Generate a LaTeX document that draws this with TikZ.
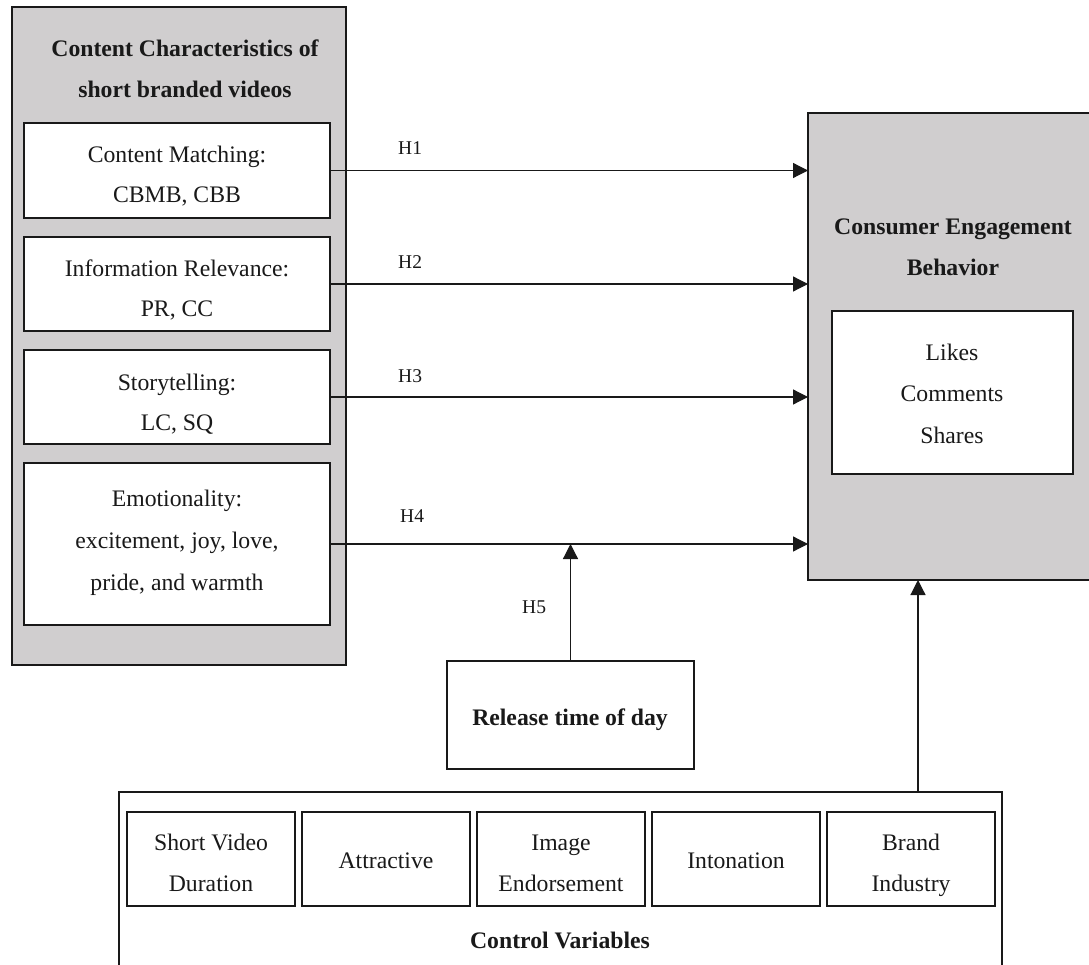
\documentclass[tikz,border=0pt]{standalone}
\usepackage{fontspec}
\setmainfont{Liberation Serif}
\usetikzlibrary{arrows.meta}
\definecolor{boxgray}{RGB}{208,206,207}
\definecolor{ink}{RGB}{25,25,25}
\tikzset{
  panel/.style={draw=ink, line width=1.3pt, fill=boxgray, inner sep=0pt, outer sep=0pt},
  wbox/.style={draw=ink, line width=1.2pt, fill=white, inner sep=0pt, outer sep=0pt},
  txt/.style={anchor=base, inner sep=0pt, text=ink, font=\fontsize{23.7}{28}\selectfont},
  btxt/.style={txt, font=\fontsize{23.7}{28}\selectfont\bfseries},
  hlab/.style={anchor=base west, inner sep=0pt, text=ink, font=\fontsize{19.5}{22}\selectfont},
  arr/.style={draw=ink, line width=1.2pt, -{Triangle[length=15pt,width=15pt]}},
}
\begin{document}
\begin{tikzpicture}[x=1pt,y=-1pt]
\useasboundingbox (0,0) rectangle (1089,965);
\clip (0,0) rectangle (1089,965);
\fill[white] (0,0) rectangle (1089,965);

% left panel
\node[panel, minimum width=334pt, minimum height=658pt] (cc) at (179,336) {};
\node[btxt] (cct1) at (185,57) {Content Characteristics of};
\node[btxt] (cct2) at (185,98) {short branded videos};

\node[wbox, minimum width=306pt, minimum height=95pt] (b1) at (177,170.5) {};
\node[wbox, minimum width=306pt, minimum height=94pt] (b2) at (177,284) {};
\node[wbox, minimum width=306pt, minimum height=94pt] (b3) at (177,397) {};
\node[wbox, minimum width=306pt, minimum height=162pt] (b4) at (177,544) {};

\node[txt] (b1a) at (177,163) {Content Matching:};
\node[txt] (b1b) at (177,203) {CBMB, CBB};
\node[txt] (b2a) at (177,277) {Information Relevance:};
\node[txt] (b2b) at (177,317) {PR, CC};
\node[txt] (b3a) at (177,390) {Storytelling:};
\node[txt] (b3b) at (177,430) {LC, SQ};
\node[txt] (b4a) at (177,506) {Emotionality:};
\node[txt] (b4b) at (177,548) {excitement, joy, love,};
\node[txt] (b4c) at (177,590) {pride, and warmth};

% right panel (cut by the right edge)
\node[panel, minimum width=288pt, minimum height=467pt] (ceb) at (952,346.5) {};
\node[btxt] (cebt1) at (953,235) {Consumer Engagement};
\node[btxt] (cebt2) at (953,276) {Behavior};
\node[wbox, minimum width=241pt, minimum height=163pt] (mea) at (952.5,392.5) {};
\node[txt] (m1) at (952,360) {Likes};
\node[txt] (m2) at (952,401) {Comments};
\node[txt] (m3) at (952,443) {Shares};

% release time
\node[wbox, minimum width=247pt, minimum height=108pt] (rel) at (570.5,715) {};
\node[btxt] (relt) at (570,725) {Release time of day};

% control variables (cut by the bottom edge)
\node[wbox, minimum width=883pt, minimum height=200pt] (ctrl) at (560.5,892) {};
\node[wbox, minimum width=168pt, minimum height=94pt] (c1) at (211,859) {};
\node[wbox, minimum width=168pt, minimum height=94pt] (c2) at (386,859) {};
\node[wbox, minimum width=168pt, minimum height=94pt] (c3) at (561,859) {};
\node[wbox, minimum width=168pt, minimum height=94pt] (c4) at (736,859) {};
\node[wbox, minimum width=168pt, minimum height=94pt] (c5) at (911,859) {};
\node[txt] (c1a) at (211,850) {Short Video};
\node[txt] (c1b) at (211,891) {Duration};
\node[txt] (c2a) at (386,868) {Attractive};
\node[txt] (c3a) at (561,850) {Image};
\node[txt] (c3b) at (561,891) {Endorsement};
\node[txt] (c4a) at (736,868) {Intonation};
\node[txt] (c5a) at (911,850) {Brand};
\node[txt] (c5b) at (911,891) {Industry};
\node[btxt] (cvt) at (560,948) {Control Variables};

% connectors
\draw[arr] (b1.east) -- (b1.east -| ceb.west);
\draw[arr] (b2.east) -- (b2.east -| ceb.west);
\draw[arr] (b3.east) -- (b3.east -| ceb.west);
\draw[arr] (b4.east) -- (b4.east -| ceb.west);
\draw[arr] (rel.north) -- (rel.north |- b4.east);
\coordinate (cvtop) at (918,792);
\draw[arr] (cvtop) -- (cvtop |- ceb.south);

% hypothesis labels
\node[hlab] (h1) at (398,155) {H1};
\node[hlab] (h2) at (398,269) {H2};
\node[hlab] (h3) at (398,382) {H3};
\node[hlab] (h4) at (400,522) {H4};
\node[hlab] (h5) at (522,613) {H5};
\end{tikzpicture}
\end{document}
